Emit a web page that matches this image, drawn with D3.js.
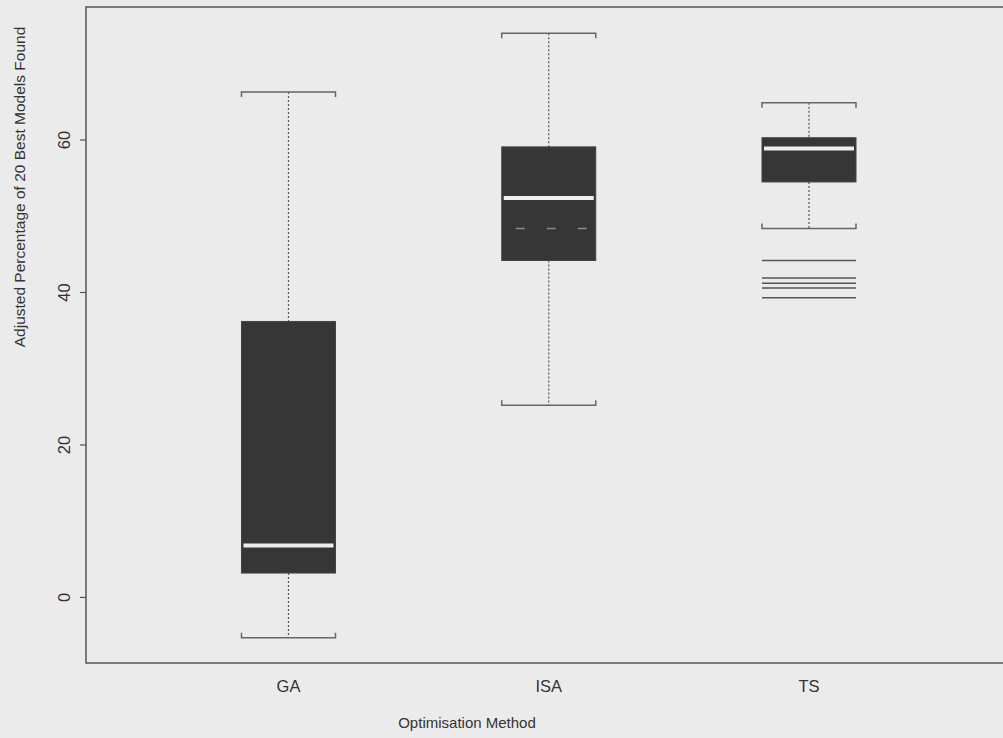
<!DOCTYPE html>
<html>
<head>
<meta charset="utf-8">
<script src="https://cdn.jsdelivr.net/npm/d3@7"></script>
<style>
  body { margin: 0; background: #ebebeb; }
  svg { display: block; font-family: 'Liberation Sans', Arial, sans-serif; }
</style>
</head>
<body>
<svg width="1003" height="738"></svg>
<script>
const methods = ['GA', 'ISA', 'TS'];
const whiskerLow = [-5.3, 25.2, 48.4];
const boxLow = [3.2, 44.2, 54.5];
const medians = [6.8, 52.4, 58.9];
const boxHigh = [36.2, 59.1, 60.3];
const whiskerHigh = [66.3, 74.0, 64.9];
// faint dashed reference inside ISA box
const innerDash = [null, 48.4, null];
const outliers = [[], [], [44.2, 41.9, 41.2, 40.6, 39.3]];
const yTicks = [0, 20, 40, 60];

const data = methods.map((m, i) => ({
  method: m,
  idx: i + 1,
  wlo: whiskerLow[i],
  q1: boxLow[i],
  med: medians[i],
  q3: boxHigh[i],
  whi: whiskerHigh[i],
  dash: innerDash[i],
  out: outliers[i],
}));

const FRAME = { left: 86, top: 7, right: 1012, bottom: 663 };

const x = d3.scaleLinear().domain([0.222, 3.78]).range([FRAME.left, FRAME.right]);
const y = d3.scaleLinear().domain([-8.6, 77.45]).range([FRAME.bottom, FRAME.top]);
const boxW = 94;
const half = boxW / 2;

const svg = d3.select('svg');

svg
  .append('rect')
  .attr('x', FRAME.left)
  .attr('y', FRAME.top)
  .attr('width', FRAME.right - FRAME.left)
  .attr('height', FRAME.bottom - FRAME.top)
  .attr('fill', 'none')
  .attr('stroke', '#555')
  .attr('stroke-width', 1.5);

// y axis ticks
const yAxis = svg.append('g');
yAxis
  .selectAll('line')
  .data(yTicks)
  .enter()
  .append('line')
  .attr('x1', FRAME.left - 6)
  .attr('x2', FRAME.left)
  .attr('y1', (d) => y(d))
  .attr('y2', (d) => y(d))
  .attr('stroke', '#555')
  .attr('stroke-width', 1.2);

yAxis
  .selectAll('text')
  .data(yTicks)
  .enter()
  .append('text')
  .text((d) => d)
  .attr('transform', (d) => `translate(${FRAME.left - 16}, ${y(d)}) rotate(-90)`)
  .attr('text-anchor', 'middle')
  .attr('font-size', 16.5)
  .attr('fill', '#333');

svg
  .append('text')
  .text('Adjusted Percentage of 20 Best Models Found')
  .attr('transform', `translate(25, ${(y(77.45) + y(-8.6)) / 2 - 148}) rotate(-90)`)
  .attr('text-anchor', 'middle')
  .attr('font-size', 15.5)
  .attr('fill', '#333');

// x labels
svg
  .selectAll('.xlab')
  .data(data)
  .enter()
  .append('text')
  .classed('xlab', true)
  .text((d) => d.method)
  .attr('x', (d) => x(d.idx))
  .attr('y', 692)
  .attr('text-anchor', 'middle')
  .attr('font-size', 16.5)
  .attr('fill', '#333');

svg
  .append('text')
  .text('Optimisation Method')
  .attr('x', 467)
  .attr('y', 728)
  .attr('text-anchor', 'middle')
  .attr('font-size', 15)
  .attr('fill', '#333');

const boxes = svg.selectAll('.box').data(data).enter().append('g').classed('box', true);

// whiskers (dotted)
boxes
  .append('line')
  .attr('x1', (d) => x(d.idx))
  .attr('x2', (d) => x(d.idx))
  .attr('y1', (d) => y(d.whi))
  .attr('y2', (d) => y(d.q3))
  .attr('stroke', '#555')
  .attr('stroke-width', 1.2)
  .attr('stroke-dasharray', '2,2');
boxes
  .append('line')
  .attr('x1', (d) => x(d.idx))
  .attr('x2', (d) => x(d.idx))
  .attr('y1', (d) => y(d.q1))
  .attr('y2', (d) => y(d.wlo))
  .attr('stroke', '#555')
  .attr('stroke-width', 1.2)
  .attr('stroke-dasharray', '2,2');

// caps as brackets
const capPath = (cx, cy, dir) =>
  `M${cx - half},${cy + dir * 5}V${cy}H${cx + half}V${cy + dir * 5}`;
boxes
  .append('path')
  .attr('d', (d) => capPath(x(d.idx), y(d.whi), 1))
  .attr('fill', 'none')
  .attr('stroke', '#666')
  .attr('stroke-width', 1.5);
boxes
  .append('path')
  .attr('d', (d) => capPath(x(d.idx), y(d.wlo), -1))
  .attr('fill', 'none')
  .attr('stroke', '#666')
  .attr('stroke-width', 1.5);

// box body
boxes
  .append('rect')
  .attr('x', (d) => x(d.idx) - half)
  .attr('width', boxW)
  .attr('y', (d) => y(d.q3))
  .attr('height', (d) => y(d.q1) - y(d.q3))
  .attr('fill', '#363636')
  .attr('stroke', '#444')
  .attr('stroke-width', 1);

// faint dashed mark
boxes
  .filter((d) => d.dash !== null)
  .append('line')
  .attr('x1', (d) => x(d.idx) - half + 14)
  .attr('x2', (d) => x(d.idx) + half)
  .attr('y1', (d) => y(d.dash))
  .attr('y2', (d) => y(d.dash))
  .attr('stroke', '#8a8a8a')
  .attr('stroke-width', 1.5)
  .attr('stroke-dasharray', '9,22');

// median
boxes
  .append('line')
  .attr('x1', (d) => x(d.idx) - half + 2)
  .attr('x2', (d) => x(d.idx) + half - 2)
  .attr('y1', (d) => y(d.med))
  .attr('y2', (d) => y(d.med))
  .attr('stroke', '#eeeeea')
  .attr('stroke-width', 4);

// outliers drawn as lines
boxes
  .selectAll('.out')
  .data((d) => d.out.map((v) => ({ idx: d.idx, v })))
  .enter()
  .append('line')
  .classed('out', true)
  .attr('x1', (d) => x(d.idx) - half)
  .attr('x2', (d) => x(d.idx) + half)
  .attr('y1', (d) => y(d.v))
  .attr('y2', (d) => y(d.v))
  .attr('stroke', '#555')
  .attr('stroke-width', 1.5);
</script>
</body>
</html>
